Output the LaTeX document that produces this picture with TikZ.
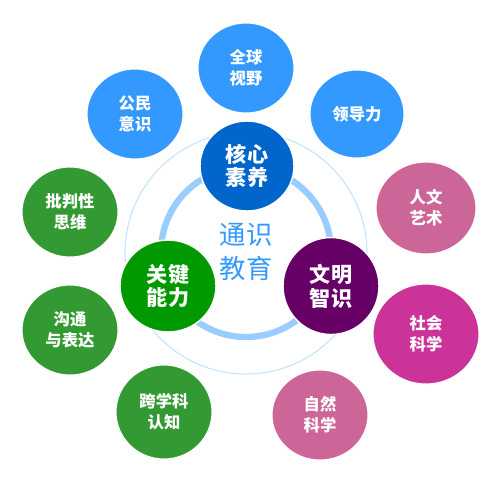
\documentclass[tikz,border=0pt]{standalone}
\usepackage{fontspec}
\setmainfont{Noto Sans CJK SC}
\usepackage{tikz}
\usetikzlibrary{shapes.geometric}
\definecolor{skyblue}{RGB}{51,153,255}
\definecolor{coreblue}{RGB}{0,102,204}
\definecolor{leafgreen}{RGB}{51,153,51}
\definecolor{coregreen}{RGB}{0,153,0}
\definecolor{corepurple}{RGB}{102,0,102}
\definecolor{rosepink}{RGB}{204,102,153}
\definecolor{magentapink}{RGB}{204,51,153}
\definecolor{ringblue}{RGB}{153,204,255}
\definecolor{haloblue}{RGB}{196,224,255}

\begin{document}
\begin{tikzpicture}[
      x=0.02cm, y=-0.02cm,
      outer/.style={ellipse, draw=white, line width=0.6pt, text=white,
                    minimum width=1.92cm, minimum height=1.8cm,
                    align=center, inner sep=0pt,
                    font=\bfseries\fontsize{9.3}{12}\selectfont},
      core/.style={ellipse, draw=white, line width=0.8pt, text=white,
                   minimum width=1.92cm, minimum height=1.84cm,
                   align=center, inner sep=0pt,
                   font=\bfseries\fontsize{12}{13.5}\selectfont},
      hub/.style={text=skyblue, align=center,
                  font=\fontsize{15}{19.5}\selectfont}
    ]
    \useasboundingbox (0,0) rectangle (500,481);

    % halo and ring
    \draw[haloblue, line width=0.6pt] (246,253) circle[radius=121];
    \draw[ringblue, line width=3.6pt] (246,252) circle[radius=85];

    \node[hub] (hub) at (246,252) {通识\\教育};

    % outer topics
    \node[outer, fill=skyblue] (global) at (246,68)  {全球\\视野};
    \node[outer, fill=skyblue] (civic)  at (135,114) {公民\\意识};
    \node[outer, fill=skyblue, minimum width=1.88cm, minimum height=1.76cm]
         (lead) at (357,114) {领导力};
    \node[outer, fill=leafgreen] (crit)  at (70,212)  {批判性\\思维};
    \node[outer, fill=leafgreen] (comm)  at (70,330)  {沟通\\与表达};
    \node[outer, fill=leafgreen, minimum height=1.88cm]
         (cross) at (164,412) {跨学科\\认知};
    \node[outer, fill=rosepink, minimum width=2cm, minimum height=1.84cm]
         (arts) at (426,208) {人文\\艺术};
    \node[outer, fill=magentapink, minimum width=2.12cm, minimum height=2cm]
         (social) at (426,334) {社会\\科学};
    \node[outer, fill=rosepink] (nature) at (320,415) {自然\\科学};

    % core pillars
    \node[core, fill=coreblue, minimum width=1.88cm, minimum height=1.8cm]
         (lit) at (247,166) {核心\\素养};
    \node[core, fill=coregreen] (skill) at (168,286) {关键\\能力};
    \node[core, fill=corepurple, minimum height=1.94cm]
         (civ) at (331,286) {文明\\智识};
  \end{tikzpicture}
\end{document}
